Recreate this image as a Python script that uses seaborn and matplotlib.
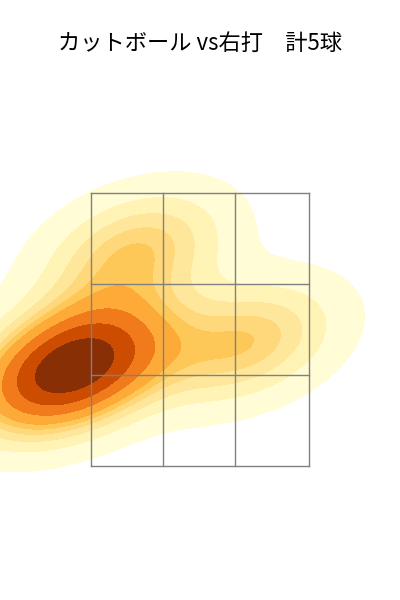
import matplotlib
matplotlib.use("Agg")
import matplotlib.pyplot as plt
import seaborn as sns
import numpy as np
import pandas as pd

# pitch locations (ft)
plate_x = [-1.0, -0.82, -1.1, -0.5, 0.35]
plate_z = [2.15, 2.3, 2.05, 3.05, 2.35]

zone_x = [-0.83, -0.28, 0.27, 0.83]
zone_z = [1.41, 2.11, 2.8, 3.5]

title = "カットボール vs右打　計5球"

df = pd.DataFrame({"x": plate_x, "z": plate_z})

plt.rcParams['font.family'] = ['Noto Sans CJK JP', 'DejaVu Sans']
fig = plt.figure(figsize=(4, 6), dpi=100)
ax = fig.add_axes([0, 0, 1, 1])

sns.kdeplot(data=df, x="x", y="z", fill=True, cmap="YlOrBr", levels=10,
            thresh=0.05, bw_adjust=1.05, ax=ax)

for xv in zone_x:
    ax.plot([xv, xv], [zone_z[0], zone_z[-1]], color="gray", lw=1)
for zv in zone_z:
    ax.plot([zone_x[0], zone_x[-1]], [zv, zv], color="gray", lw=1)

ax.set_xlim(-1.525, 1.528)
ax.set_ylim(0.39, 4.97)
ax.axis("off")
fig.text(0.5, 0.928, title, ha="center", va="center", fontsize=16)
fig.savefig("out.png", dpi=100)
